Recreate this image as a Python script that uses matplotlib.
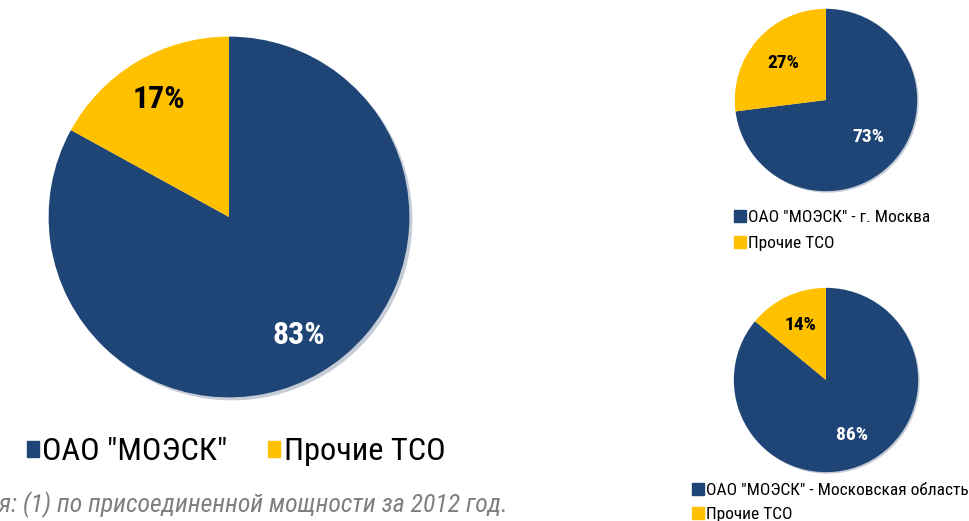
import matplotlib
matplotlib.use("Agg")
import matplotlib.pyplot as plt
from matplotlib.patches import Patch

plt.rcParams["font.family"] = ["Roboto Condensed", "DejaVu Sans"]

blue = "#1F4576"
yellow = "#FFC000"

total_labels = ['ОАО "МОЭСК"', "Прочие ТСО"]
total_values = [83, 17]

moscow_labels = ['ОАО "МОЭСК" - г. Москва', "Прочие ТСО"]
moscow_values = [73, 27]

region_labels = ['ОАО "МОЭСК" - Московская область', "Прочие ТСО"]
region_values = [86, 14]

note = "Примечания: (1) по присоединенной мощности за 2012 год."

fig = plt.figure(figsize=(9.7, 5.21), dpi=100)
W, H = 970, 521


def px_axes(left, top, size):
    return fig.add_axes([left / W, (H - top - size) / H, size / W, size / H])


def draw_pie(ax, values, pctdist, fsize, weight):
    wedges, texts, autotexts = ax.pie(
        values, colors=[blue, yellow], startangle=90, counterclock=False,
        autopct="%d%%", pctdistance=pctdist, radius=1,
        shadow={"ox": 0.012, "oy": -0.012, "shade": 0.2, "alpha": 0.25},
        wedgeprops={"linewidth": 0},
    )
    autotexts[0].set_color("white")
    autotexts[1].set_color("black")
    for t in autotexts:
        t.set_fontsize(fsize)
        t.set_fontweight(weight)
    ax.set_xlim(-1.02, 1.02)
    ax.set_ylim(-1.02, 1.02)
    ax.set_aspect("equal")
    ax.axis("off")
    return wedges


ax_big = px_axes(45, 33, 368)
draw_pie(ax_big, total_values, 0.76, 23, "bold")

ax_m = px_axes(733, 7, 186)
draw_pie(ax_m, moscow_values, 0.62, 14, "semibold")

ax_r = px_axes(732, 286, 188)
draw_pie(ax_r, region_values, 0.66, 14, "semibold")

fig.legend(handles=[Patch(color=blue), Patch(color=yellow)], labels=total_labels,
           loc="center left", bbox_to_anchor=(14 / W, (H - 452) / H), ncol=2,
           frameon=False, fontsize=23.3, handlelength=0.36, handleheight=0.36,
           handletextpad=0.12, columnspacing=1.25, borderaxespad=0)

fig.legend(handles=[Patch(color=blue), Patch(color=yellow)], labels=moscow_labels,
           loc="upper left", bbox_to_anchor=(727 / W, (H - 203) / H), ncol=1,
           frameon=False, fontsize=12.5, handlelength=0.7, handleheight=0.7,
           handletextpad=0.1, labelspacing=0.6, borderaxespad=0)

fig.legend(handles=[Patch(color=blue), Patch(color=yellow)], labels=region_labels,
           loc="upper left", bbox_to_anchor=(685 / W, (H - 476) / H), ncol=1,
           frameon=False, fontsize=12.5, handlelength=0.7, handleheight=0.7,
           handletextpad=0.1, labelspacing=0.5, borderaxespad=0)

fig.text(508 / W, (H - 505) / H, note, ha="right", va="center", fontsize=18.5,
         style="italic", color="#7F7F7F")

fig.savefig("out.png", dpi=100)
